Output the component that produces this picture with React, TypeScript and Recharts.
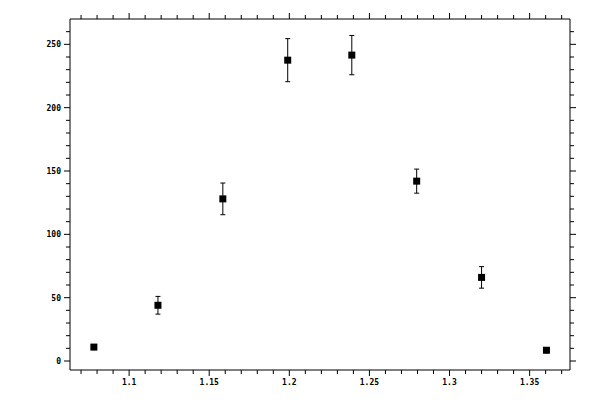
import React from "react";
import { ScatterChart, Scatter, XAxis, YAxis, ErrorBar } from "recharts";

const xValues = [1.078, 1.118, 1.1585, 1.199, 1.239, 1.2795, 1.32, 1.3605];
const yValues = [11, 44, 128, 237.5, 241.5, 142, 66, 8.5];
const yErrors = [2, 7, 12.5, 17, 15.5, 9.5, 8.5, 2];

const xTicks = [
  1.07, 1.08, 1.09, 1.1, 1.11, 1.12, 1.13, 1.14, 1.15, 1.16, 1.17, 1.18, 1.19, 1.2,
  1.21, 1.22, 1.23, 1.24, 1.25, 1.26, 1.27, 1.28, 1.29, 1.3, 1.31, 1.32, 1.33, 1.34,
  1.35, 1.36, 1.37,
];
const xMajorTicks = [1.1, 1.15, 1.2, 1.25, 1.3, 1.35];
const yTicks = [
  0, 10, 20, 30, 40, 50, 60, 70, 80, 90, 100, 110, 120, 130, 140, 150, 160, 170, 180,
  190, 200, 210, 220, 230, 240, 250, 260,
];
const yMajorTicks = [0, 50, 100, 150, 200, 250];

const xDomain = [1.0631, 1.3752];
const yDomain = [-7.1, 270];

const data = xValues.map((x, i) => ({ x, y: yValues[i], err: yErrors[i] }));

const FONT = "'DejaVu Sans Mono', monospace";
const MAJOR = 6;
const MINOR = 4;

const isXMajor = (v: number) => xMajorTicks.some((m) => Math.abs(m - v) < 1e-6);
const isYMajor = (v: number) => yMajorTicks.includes(v);

const XTick = (props: any) => {
  const { x, y, payload, side } = props;
  const v = payload.value;
  const major = isXMajor(v);
  const len = major ? MAJOR : MINOR;
  const dir = side === "bottom" ? 1 : -1;
  return (
    <g>
      <line x1={x} x2={x} y1={y} y2={y + dir * len} stroke="#000" strokeWidth={1} />
      {side === "bottom" && major && (
        <text x={x} y={y + 15} textAnchor="middle" fontFamily={FONT} fontSize={8} fontWeight="bold" fill="#000">
          {String(v)}
        </text>
      )}
    </g>
  );
};

const YTick = (props: any) => {
  const { x, y, payload, side } = props;
  const v = payload.value;
  const major = isYMajor(v);
  const len = major ? MAJOR : MINOR;
  const dir = side === "left" ? -1 : 1;
  return (
    <g>
      <line x1={x} x2={x + dir * len} y1={y} y2={y} stroke="#000" strokeWidth={1} />
      {side === "left" && major && (
        <text x={x - 9} y={y + 3} textAnchor="end" fontFamily={FONT} fontSize={8} fontWeight="bold" fill="#000">
          {String(v)}
        </text>
      )}
    </g>
  );
};

const Square = (props: any) => {
  const { cx, cy } = props;
  return <rect x={cx - 3.5} y={cy - 3.5} width={7} height={7} fill="#000" />;
};

const Nothing = () => <g />;

export default function App() {
  return (
    <div style={{ position: "absolute", left: 0, top: 0, background: "#fff" }}>
      <ScatterChart width={600} height={400} margin={{ top: 18, right: 29, bottom: 0, left: 0 }}>
        <XAxis
          xAxisId="bottom"
          orientation="bottom"
          dataKey="x"
          type="number"
          domain={xDomain}
          allowDataOverflow
          ticks={xTicks}
          interval={0}
          height={30}
          tickSize={0}
          tickMargin={0}
          tickLine={false}
          axisLine={{ stroke: "#000" }}
          tick={(p: any) => <XTick {...p} side="bottom" />}
        />
        <XAxis
          xAxisId="top"
          orientation="top"
          dataKey="x"
          type="number"
          domain={xDomain}
          allowDataOverflow
          ticks={xTicks}
          interval={0}
          height={1}
          tickSize={0}
          tickMargin={0}
          tickLine={false}
          axisLine={{ stroke: "#000" }}
          tick={(p: any) => <XTick {...p} side="top" />}
        />
        <YAxis
          yAxisId="left"
          orientation="left"
          dataKey="y"
          type="number"
          domain={yDomain}
          allowDataOverflow
          ticks={yTicks}
          interval={0}
          width={70}
          tickSize={0}
          tickMargin={0}
          tickLine={false}
          axisLine={{ stroke: "#000" }}
          tick={(p: any) => <YTick {...p} side="left" />}
        />
        <YAxis
          yAxisId="right"
          orientation="right"
          dataKey="y"
          type="number"
          domain={yDomain}
          allowDataOverflow
          ticks={yTicks}
          interval={0}
          width={1}
          tickSize={0}
          tickMargin={0}
          tickLine={false}
          axisLine={{ stroke: "#000" }}
          tick={(p: any) => <YTick {...p} side="right" />}
        />
        <Scatter
          data={data}
          xAxisId="top"
          yAxisId="right"
          shape={<Nothing />}
          isAnimationActive={false}
        />
        <Scatter
          data={data}
          xAxisId="bottom"
          yAxisId="left"
          shape={<Square />}
          isAnimationActive={false}
        >
          <ErrorBar dataKey="err" direction="y" width={2.5} stroke="#000" strokeWidth={1} />
        </Scatter>
      </ScatterChart>
    </div>
  );
}
